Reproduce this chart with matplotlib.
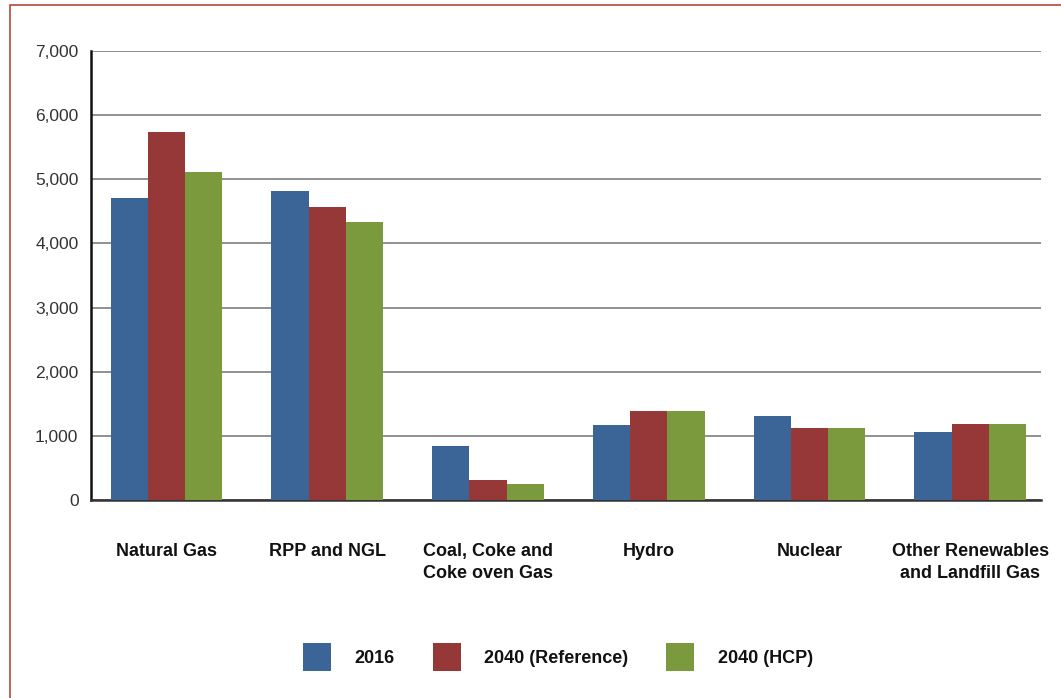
import numpy as np
import matplotlib.pyplot as plt
from matplotlib.patches import Rectangle, Patch
#
categories = ['Natural Gas', 'RPP and NGL', 'Coal, Coke and\nCoke oven Gas',
              'Hydro', 'Nuclear', 'Other Renewables\nand Landfill Gas']
series_names = ['2016', '2040 (Reference)', '2040 (HCP)']
v2016 = [4710, 4820, 840, 1170, 1310, 1060]
v2040_ref = [5740, 4570, 310, 1390, 1120, 1185]
v2040_hcp = [5115, 4335, 250, 1390, 1120, 1185]
yticks = [0, 1000, 2000, 3000, 4000, 5000, 6000, 7000]
ytick_labels = ['0', '1,000', '2,000', '3,000', '4,000', '5,000', '6,000', '7,000']
#
colors = ['#3A6596', '#963837', '#7B9A3E']
plt.rcParams['font.family'] = ['Liberation Sans', 'DejaVu Sans']
#
fig = plt.figure(figsize=(10.61, 6.98), dpi=100)
ax = fig.add_axes([91/1061, 1-500/698, (1041-91)/1061, 449/698])
#
x = np.arange(len(categories))
w = 0.232
for i, vals in enumerate([v2016, v2040_ref, v2040_hcp]):
    ax.bar(x + (i-1)*w, vals, w, color=colors[i], zorder=3)
#
ax.set_ylim(0, 7000)
ax.set_xlim(-0.47, 5.44)
ax.set_yticks(yticks)
ax.set_yticklabels(ytick_labels, fontsize=12.5, color='#333333')
ax.set_xticks(x)
ax.set_xticklabels(categories, fontsize=13, fontweight='bold', va='top', linespacing=1.38,
                   color='#111111')
ax.tick_params(axis='x', length=0, pad=31)
ax.tick_params(axis='y', length=0, pad=9)
ax.grid(axis='y', color='#888888', lw=1.3, zorder=0)
for s in ['top', 'right']:
    ax.spines[s].set_visible(False)
ax.spines['left'].set_color('#111111')
ax.spines['left'].set_linewidth(1.8)
ax.spines['bottom'].set_color('#333333')
ax.spines['bottom'].set_linewidth(1.8)
#
handles = [Patch(facecolor=c, label=n) for c, n in zip(colors, series_names)]
leg = fig.legend(handles=handles, loc='center', bbox_to_anchor=(558/1061, 1-657/698),
                 ncol=3, frameon=False, fontsize=13, handlelength=1.55, handleheight=2.0,
                 columnspacing=2.1, handletextpad=1.3)
for t in leg.get_texts():
    t.set_fontweight('bold')
    t.set_color('#111111')
#
fig.patches.append(Rectangle((10/1061, -0.1), 1.2, 1-5/698+0.1, transform=fig.transFigure,
                             fill=False, edgecolor='#B5473A', lw=1.2))
#
plt.savefig('out.png', dpi=100)
